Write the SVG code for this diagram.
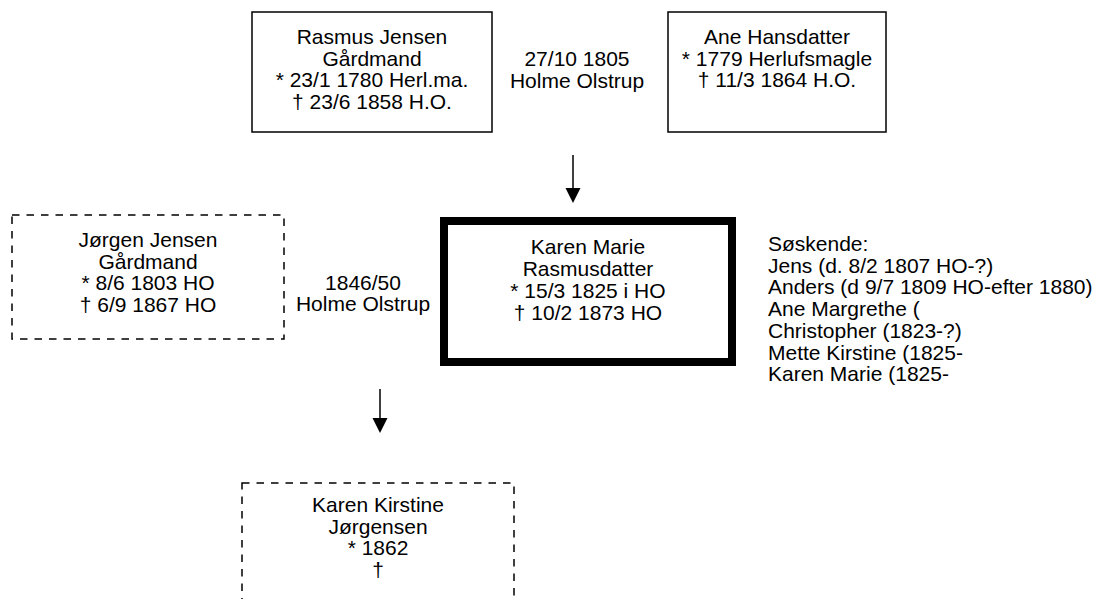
<svg xmlns="http://www.w3.org/2000/svg" width="1098" height="599" viewBox="0 0 1098 599">
<style>
text{font-family:"Liberation Sans",Arial,sans-serif;font-size:21px;fill:#000}
.c{text-anchor:middle}
.solid{fill:#fff;stroke:#000;stroke-width:1.5}
.dash{fill:#fff;stroke:#000;stroke-width:1.5;stroke-dasharray:7.5 7}
.thick{fill:#fff;stroke:#000;stroke-width:8}
.conn line{stroke:#000;stroke-width:1.5}
.conn polygon{fill:#000}
</style>
<rect width="1098" height="599" fill="#fff"/>
<g id="rasmus">
<rect class="solid" x="252" y="12" width="240" height="120"/>
<text class="c" x="372" y="44">Rasmus Jensen</text>
<text class="c" x="372" y="65.7">Gårdmand</text>
<text class="c" x="372" y="87.2">* 23/1 1780 Herl.ma.</text>
<text class="c" x="372" y="108.7">† 23/6 1858 H.O.</text>
</g>
<g id="marriage1">
<text class="c" x="577" y="66">27/10 1805</text>
<text class="c" x="577" y="87.5">Holme Olstrup</text>
</g>
<g id="ane">
<rect class="solid" x="668" y="12" width="218" height="120"/>
<text class="c" x="777" y="44">Ane Hansdatter</text>
<text class="c" x="777" y="65.7">* 1779 Herlufsmagle</text>
<text class="c" x="777" y="87.2">† 11/3 1864 H.O.</text>
</g>
<g id="joergen">
<rect class="dash" x="12" y="215" width="272" height="124"/>
<text class="c" x="148" y="247">Jørgen Jensen</text>
<text class="c" x="148" y="268.7">Gårdmand</text>
<text class="c" x="148" y="290.4">* 8/6 1803 HO</text>
<text class="c" x="148" y="312.1">† 6/9 1867 HO</text>
</g>
<g id="marriage2">
<text class="c" x="363" y="289.5">1846/50</text>
<text class="c" x="363" y="311.2">Holme Olstrup</text>
</g>
<g id="karenmarie">
<rect class="thick" x="444" y="221" width="288" height="141"/>
<text class="c" x="588" y="253.5">Karen Marie</text>
<text class="c" x="588" y="275.5">Rasmusdatter</text>
<text class="c" x="588" y="297.5">* 15/3 1825 i HO</text>
<text class="c" x="588" y="319.5">† 10/2 1873 HO</text>
</g>
<g id="soeskende">
<text x="768" y="251">Søskende:</text>
<text x="768" y="272.7">Jens (d. 8/2 1807 HO-?)</text>
<text x="768" y="294.4">Anders (d 9/7 1809 HO-efter 1880)</text>
<text x="768" y="316.1">Ane Margrethe (</text>
<text x="768" y="337.8">Christopher (1823-?)</text>
<text x="768" y="359.5">Mette Kirstine (1825-</text>
<text x="768" y="381.2">Karen Marie (1825-</text>
</g>
<g id="karenkirstine">
<rect class="dash" x="242" y="483" width="272" height="130"/>
<text class="c" x="378" y="512">Karen Kirstine</text>
<text class="c" x="378" y="533.7">Jørgensen</text>
<text class="c" x="378" y="555.4">* 1862</text>
<text class="c" x="378" y="577.1">†</text>
</g>
<g id="connectors" class="conn">
<line x1="573" y1="155" x2="573" y2="189"/>
<polygon points="565.5,188 580.5,188 573,203"/>
<line x1="380" y1="389" x2="380" y2="419"/>
<polygon points="372.5,418 387.5,418 380,433"/>
</g>
</svg>
